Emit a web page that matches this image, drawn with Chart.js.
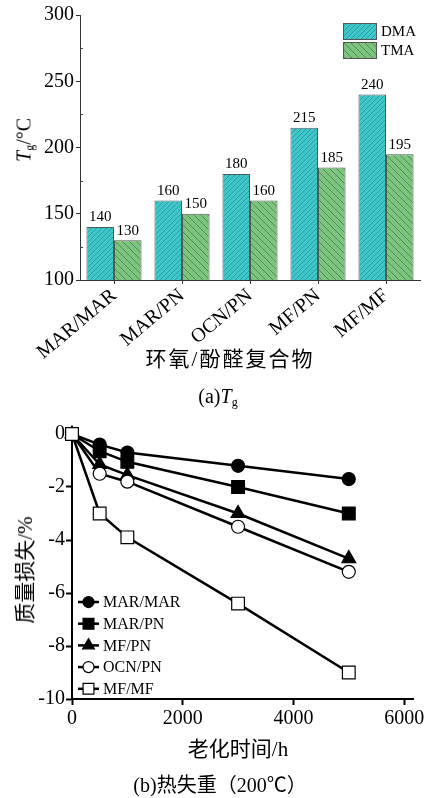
<!DOCTYPE html>
<html>
<head>
<meta charset="utf-8">
<script src="https://cdn.jsdelivr.net/npm/chart.js@4.4.1/dist/chart.umd.min.js"></script>
<style>
    body {
        margin: 0;
        width: 428px;
        height: 798px;
        background: #fff;
        position: relative;
        overflow: hidden;
        font-family: "Liberation Serif", "Noto Sans CJK SC", serif;
        color: #000;
    }
    .box {
        position: absolute;
        left: 0;
    }
    .label {
        position: absolute;
        white-space: nowrap;
        transform: translate(-50%, -50%);
        font-family: "Liberation Serif", "Noto Sans CJK SC", serif;
    }
    .vertical {
        transform: translate(-50%, -50%) rotate(-90deg);
    }
    sub {
        font-size: 0.6em;
        vertical-align: -0.25em;
    }
</style>
</head>
<body>

<div class="box" style="top:0;width:428px;height:378px"><canvas id="tgChart"></canvas></div>
<div class="label vertical" style="left:25px;top:140px;font-size:20px"><i>T</i><sub>g</sub>/°C</div>
<div class="label" style="left:230px;top:357px;font-size:21px;letter-spacing:2px">环氧/酚醛复合物</div>
<div class="label" style="left:218px;top:397px;font-size:20px">(a)<i>T</i><sub>g</sub></div>

<div class="box" style="top:405px;width:428px;height:330px"><canvas id="lossChart"></canvas></div>
<div class="label vertical" style="left:23px;top:570px;font-size:21px">质量损失/%</div>
<div class="label" style="left:238px;top:747px;font-size:21px">老化时间/h</div>
<div class="label" style="left:220px;top:783px;font-size:20px">(b)热失重（200℃）</div>

<script>
// Tg values
const composites = ['MAR/MAR', 'MAR/PN', 'OCN/PN', 'MF/PN', 'MF/MF'];
const dmaTg = [140, 160, 180, 215, 240];
const tmaTg = [130, 150, 160, 185, 195];
const tgTicks = [100, 150, 200, 250, 300];

// mass loss at 200 °C, panel (b)
const agingHours = [0, 500, 1000, 3000, 5000];
const lossMarMar = [0, -0.4, -0.7, -1.2, -1.7];
const lossMarPn = [0, -0.65, -1.05, -2.0, -3.0];
const lossMfPn = [0, -1.15, -1.55, -3.0, -4.7];
const lossOcnPn = [0, -1.5, -1.8, -3.5, -5.2];
const lossMfMf = [0, -3.0, -3.9, -6.4, -9.0];
const hourTicks = [0, 2000, 4000, 6000];
const lossTicks = [0, -2, -4, -6, -8, -10];

const serif = '"Liberation Serif", "Times New Roman", serif';

// diagonal hatch fill for the bars
function makeHatch(bg, line, dir, size) {
    const c = document.createElement('canvas');
    c.width = size;
    c.height = size;
    const g = c.getContext('2d');
    g.fillStyle = bg;
    g.fillRect(0, 0, size, size);
    g.strokeStyle = line;
    g.lineWidth = 1;
    g.beginPath();
    if (dir === '/') {
        g.moveTo(-1, 1); g.lineTo(1, -1);
        g.moveTo(0, size); g.lineTo(size, 0);
        g.moveTo(size - 1, size + 1); g.lineTo(size + 1, size - 1);
    } else {
        g.moveTo(-1, size - 1); g.lineTo(1, size + 1);
        g.moveTo(0, 0); g.lineTo(size, size);
        g.moveTo(size - 1, -1); g.lineTo(size + 1, 1);
    }
    g.stroke();
    return g.createPattern(c, 'repeat');
}

const dmaFill = makeHatch('#3fc7ca', '#2a9fa3', '/', 5);
const tmaFill = makeHatch('#7dc47f', '#4f8f57', '\\', 7);

// value labels above bars, legend and minor ticks for panel (a)
const barExtras = {
    id: 'barExtras',
    afterDatasetsDraw(chart) {
        const ctx = chart.ctx;
        const area = chart.chartArea;
        const y = chart.scales.y;
        ctx.save();
        ctx.font = '15px ' + serif;
        ctx.fillStyle = '#000';
        ctx.textAlign = 'center';
        ctx.textBaseline = 'bottom';
        chart.data.datasets.forEach((ds, i) => {
            chart.getDatasetMeta(i).data.forEach((bar, j) => {
                ctx.fillText(String(ds.data[j]), bar.x, bar.y - 2);
            });
        });

        // minor ticks, pointing inward
        ctx.strokeStyle = '#444';
        ctx.lineWidth = 1;
        [125, 175, 225, 275].forEach(v => {
            const py = Math.round(y.getPixelForValue(v)) + 0.5;
            ctx.beginPath();
            ctx.moveTo(area.left, py);
            ctx.lineTo(area.left + 3, py);
            ctx.stroke();
        });

        // legend in the top right corner
        const lx = area.right - 77;
        let ly = area.top + 8;
        ctx.textAlign = 'left';
        ctx.textBaseline = 'middle';
        chart.data.datasets.forEach(ds => {
            ctx.fillStyle = ds.backgroundColor;
            ctx.fillRect(lx, ly, 34, 17);
            ctx.strokeStyle = '#555';
            ctx.strokeRect(lx + 0.5, ly + 0.5, 33, 16);
            ctx.fillStyle = '#000';
            ctx.fillText(ds.label, lx + 38, ly + 9);
            ly += 19;
        });
        ctx.restore();
    }
};

new Chart(document.getElementById('tgChart'), {
    type: 'bar',
    data: {
        labels: composites,
        datasets: [{
            label: 'DMA',
            data: dmaTg,
            backgroundColor: dmaFill,
            borderColor: '#4d5a5a',
            borderWidth: 1
        }, {
            label: 'TMA',
            data: tmaTg,
            backgroundColor: tmaFill,
            borderColor: '#4d5a4d',
            borderWidth: 1
        }]
    },
    options: {
        responsive: true,
        maintainAspectRatio: false,
        animation: false,
        layout: {
            padding: { top: 15, right: 8, left: 0, bottom: 0 }
        },
        datasets: {
            bar: { categoryPercentage: 0.81, barPercentage: 1.0 }
        },
        scales: {
            x: {
                grid: {
                    offset: false,
                    drawOnChartArea: false,
                    tickLength: 4,
                    color: '#333'
                },
                border: { color: '#333', width: 1 },
                ticks: {
                    color: '#000',
                    font: { family: serif, size: 20 },
                    minRotation: 40,
                    maxRotation: 40,
                    padding: 0,
                    autoSkip: false
                },
                afterFit(scale) { scale.height = 98; }
            },
            y: {
                min: 100,
                max: 300,
                afterBuildTicks(scale) {
                    scale.ticks = tgTicks.map(v => ({ value: v }));
                },
                grid: {
                    drawOnChartArea: false,
                    tickLength: 4,
                    color: '#333'
                },
                border: { color: '#333', width: 1 },
                ticks: {
                    color: '#000',
                    font: { family: serif, size: 20 },
                    padding: 2
                },
                afterFit(scale) { scale.width = 80; }
            }
        },
        plugins: {
            legend: { display: false },
            tooltip: { enabled: false }
        }
    },
    plugins: [barExtras]
});

// panel (b) series styles
const lossSeries = [
    { label: 'MAR/MAR', data: lossMarMar, style: 'circle', radius: 6.5, fill: '#000', order: 5 },
    { label: 'MAR/PN', data: lossMarPn, style: 'rect', radius: 9, fill: '#000', order: 4 },
    { label: 'MF/PN', data: lossMfPn, style: 'triangle', radius: 8, fill: '#000', order: 3 },
    { label: 'OCN/PN', data: lossOcnPn, style: 'circle', radius: 6.5, fill: '#fff', order: 2 },
    { label: 'MF/MF', data: lossMfMf, style: 'rect', radius: 9, fill: '#fff', order: 1 }
];

// legend with line + marker, placed inside the plot
const lineLegend = {
    id: 'lineLegend',
    afterDraw(chart) {
        const ctx = chart.ctx;
        const area = chart.chartArea;
        ctx.save();
        ctx.font = '16px ' + serif;
        ctx.textBaseline = 'middle';
        ctx.textAlign = 'left';
        chart.data.datasets.forEach((ds, i) => {
            const y = area.top + 168 + i * 21.7;
            ctx.strokeStyle = '#000';
            ctx.lineWidth = 2.5;
            ctx.beginPath();
            ctx.moveTo(area.left + 6, y);
            ctx.lineTo(area.left + 27, y);
            ctx.stroke();
            ctx.fillStyle = ds.pointBackgroundColor;
            ctx.lineWidth = 1.2;
            Chart.helpers.drawPoint(ctx, {
                pointStyle: ds.pointStyle,
                radius: ds.pointRadius * 0.85,
                rotation: 0,
                borderWidth: 1.2
            }, area.left + 16.5, y);
            ctx.fillStyle = '#000';
            ctx.fillText(ds.label, area.left + 31, y + 1);
        });
        ctx.restore();
    }
};

new Chart(document.getElementById('lossChart'), {
    type: 'line',
    data: {
        datasets: lossSeries.map(s => ({
            label: s.label,
            data: agingHours.map((h, k) => ({ x: h, y: s.data[k] })),
            borderColor: '#000',
            borderWidth: 2.5,
            pointStyle: s.style,
            pointRadius: s.radius,
            pointBackgroundColor: s.fill,
            pointBorderColor: '#000',
            pointBorderWidth: 1.2,
            order: s.order,
            clip: false,
            tension: 0
        }))
    },
    options: {
        responsive: true,
        maintainAspectRatio: false,
        animation: false,
        layout: {
            padding: { top: 29, right: 15, left: 0, bottom: 0 }
        },
        scales: {
            x: {
                type: 'linear',
                min: 0,
                max: 6160,
                afterBuildTicks(scale) {
                    scale.ticks = hourTicks.map(v => ({ value: v }));
                },
                grid: {
                    drawOnChartArea: false,
                    tickLength: 6,
                    tickWidth: 2,
                    color: '#000'
                },
                border: { color: '#000', width: 2 },
                ticks: {
                    color: '#000',
                    font: { family: serif, size: 20 },
                    padding: 2,
                    maxRotation: 0,
                    callback: v => String(v)
                },
                afterFit(scale) { scale.height = 36; }
            },
            y: {
                min: -10,
                max: 0,
                afterBuildTicks(scale) {
                    scale.ticks = lossTicks.map(v => ({ value: v }));
                },
                grid: {
                    drawOnChartArea: false,
                    tickLength: 6,
                    tickWidth: 2,
                    color: '#000'
                },
                border: { color: '#000', width: 2 },
                ticks: {
                    color: '#000',
                    font: { family: serif, size: 20 },
                    padding: 1,
                    callback: v => String(v)
                },
                afterFit(scale) { scale.width = 72; }
            }
        },
        plugins: {
            legend: { display: false },
            tooltip: { enabled: false }
        }
    },
    plugins: [lineLegend]
});
</script>
</body>
</html>
